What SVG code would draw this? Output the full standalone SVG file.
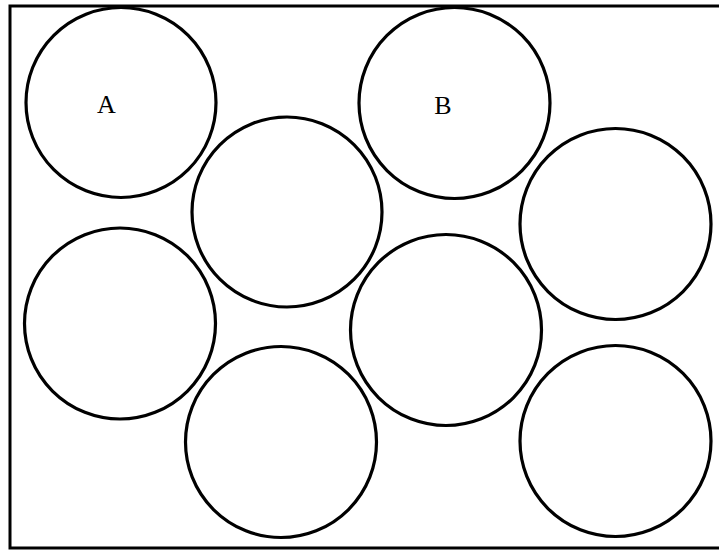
<svg xmlns="http://www.w3.org/2000/svg" width="719" height="552" viewBox="0 0 719 552">
<style>
.c{fill:none;stroke:#000;stroke-width:3.2}
.b{fill:none;stroke:#000;stroke-width:3}
.t{font-family:"Liberation Serif","Times New Roman",serif;font-size:26px;fill:#000}
</style>
<rect width="719" height="552" fill="#fff"/>
<path class="b" d="M719 6 L10 6 L10 548 L719 548"/>
<g id="circleA"><circle class="c" cx="121" cy="102.5" r="95"/><text class="t" x="106.5" y="113" text-anchor="middle">A</text></g>
<g id="circleB"><circle class="c" cx="454.5" cy="103" r="95.5"/><text class="t" x="443" y="114" text-anchor="middle">B</text></g>
<g id="circle3"><circle class="c" cx="287" cy="212" r="95"/></g>
<g id="circle4"><circle class="c" cx="615.5" cy="224" r="95.5"/></g>
<g id="circle5"><circle class="c" cx="120" cy="323.5" r="95.5"/></g>
<g id="circle6"><circle class="c" cx="446" cy="330" r="95.5"/></g>
<g id="circle7"><circle class="c" cx="281" cy="442" r="95.5"/></g>
<g id="circle8"><circle class="c" cx="615.5" cy="441" r="95.5"/></g>
<g id="connectors"></g>
</svg>
